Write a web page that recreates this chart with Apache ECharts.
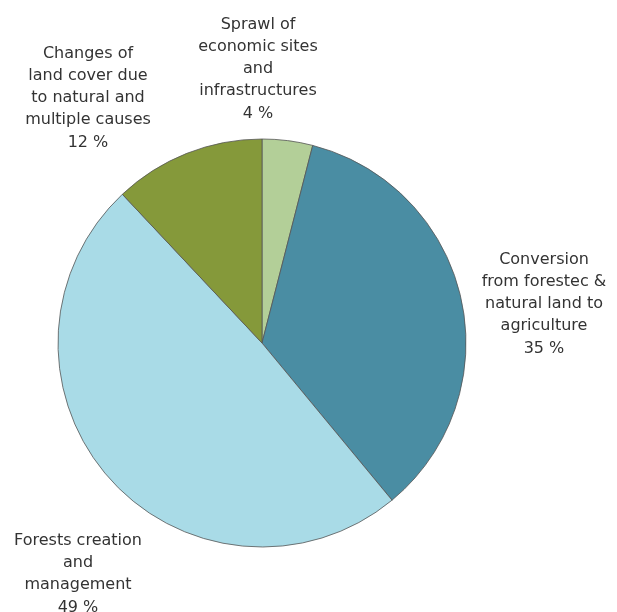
<!DOCTYPE html>
<html><head><meta charset="utf-8">
<script src="https://cdn.jsdelivr.net/npm/echarts@6/dist/echarts.min.js"></script>
<style>html,body{margin:0;padding:0;background:#fff}#c{width:617px;height:612px}</style>
</head><body><div id="c"></div>
<script>
const categories = [
  "Sprawl of\neconomic sites\nand\ninfrastructures",
  "Conversion\nfrom forestec &\nnatural land to\nagriculture",
  "Forests creation\nand\nmanagement",
  "Changes of\nland cover due\nto natural and\nmultiple causes"
];
const values = [4, 35, 49, 12];
const colors = ["#b3cf98", "#4a8da3", "#a9dbe7", "#85993a"];
const labelPos = [[258, 69], [544, 304], [78, 574], [88, 98]];

const chart = echarts.init(document.getElementById('c'));
chart.setOption({
  animation: false,
  series: [{
    type: 'pie',
    center: [262, 343],
    radius: 204,
    startAngle: 90,
    clockwise: true,
    data: categories.map((n, i) => ({
      name: n, value: values[i],
      itemStyle: { color: colors[i] }
    })),
    itemStyle: { borderColor: '#555', borderWidth: 0.8 },
    label: {
      show: true, position: 'outside',
      formatter: p => p.name + '\n' + p.value + ' %',
      fontFamily: '"DejaVu Sans", Verdana, sans-serif', fontSize: 16, lineHeight: 22.3,
      color: '#333', align: 'center', overflow: 'none', width: 300
    },
    labelLine: { show: false },
    labelLayout: p => ({ x: labelPos[p.dataIndex][0], y: labelPos[p.dataIndex][1], align: 'center', verticalAlign: 'middle' })
  }]
});
</script></body></html>
